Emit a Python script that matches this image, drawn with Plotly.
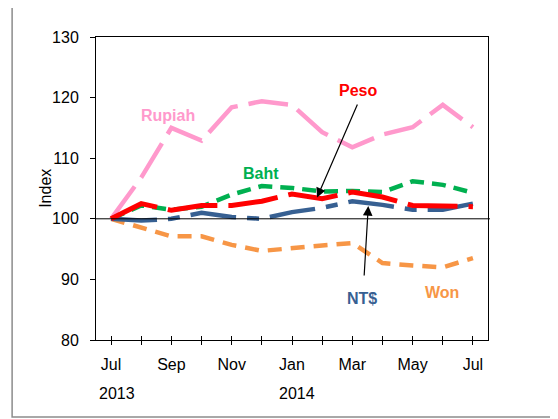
import plotly.graph_objects as go

# Monthly index values, Jul 2013 = 100
months = ["Jul", "Aug", "Sep", "Oct", "Nov", "Dec", "Jan",
          "Feb", "Mar", "Apr", "May", "Jun", "Jul"]
rupiah = [100, 106.8, 115.0, 112.9, 118.4, 119.4, 118.8, 114.3, 111.8, 113.9, 115.1, 118.8, 115.1]
baht = [100, 102.2, 101.5, 102.0, 104.0, 105.4, 105.1, 104.5, 104.6, 104.4, 106.2, 105.6, 104.3]
peso = [100, 102.5, 101.4, 102.2, 102.2, 102.9, 104.1, 103.3, 104.4, 103.6, 102.2, 102.2, 102.0]
ntd = [100, 99.7, 100.0, 101.0, 100.3, 100.0, 101.1, 101.8, 102.9, 102.3, 101.5, 101.5, 102.5]
won = [100, 98.5, 97.1, 97.1, 95.7, 94.7, 95.2, 95.6, 96.0, 92.7, 92.3, 92.0, 93.5]

month_labels = [m if i % 2 == 0 else "" for i, m in enumerate(months)]
years = ["2013", "2014"]

FONT = "Liberation Sans, Arial, sans-serif"
x = list(range(len(months)))

series = [
    ("Rupiah", rupiah, "#FF99CC", 4.5, "40px,11px"),
    ("Won", won, "#F79646", 4.5, "14px,9px"),
    ("Baht", baht, "#00B050", 4.5, "14px,8px"),
    ("NT$", ntd, "#376092", 4.5, "46px,11px,12px,11px"),
    ("Peso", peso, "#FF0000", 5, "50px,11px"),
]

fig = go.Figure()
for name, vals, color, width, dash in series:
    fig.add_trace(go.Scatter(
        x=x, y=vals, mode="lines", name=name,
        line=dict(color=color, width=width, dash=dash),
        showlegend=False, hoverinfo="skip",
    ))

# reference line at 100
fig.add_shape(type="line", xref="paper", yref="y", x0=0, x1=1.005, y0=100, y1=100,
              line=dict(color="black", width=1))

# outer frame
fig.add_shape(type="rect", xref="paper", yref="paper",
              x0=-0.214, x1=1.25, y0=-0.254, y1=1.102,
              line=dict(color="#8c8c8c", width=1.5), layer="below")

labels = [
    ("Rupiah", 1.90, 117.1, "#FF99CC"),
    ("Baht", 4.98, 107.4, "#00B050"),
    ("Peso", 8.19, 121.1, "#FF0000"),
    ("NT$", 8.32, 86.9, "#376092"),
    ("Won", 10.97, 87.9, "#F79646"),
]
for text, lx, ly, color in labels:
    fig.add_annotation(x=lx, y=ly, text="<b>%s</b>" % text, showarrow=False,
                       font=dict(family=FONT, size=16, color=color))

# arrows
fig.add_annotation(x=6.83, y=103.5, ax=8.19, ay=119.1, axref="x", ayref="y",
                   text="", showarrow=True, arrowhead=2, arrowsize=1.6,
                   arrowwidth=1.2, arrowcolor="black")
fig.add_annotation(x=8.53, y=102.1, ax=8.39, ay=90.4, axref="x", ayref="y",
                   text="", showarrow=True, arrowhead=2, arrowsize=1.6,
                   arrowwidth=1.2, arrowcolor="black")

# year labels
for yr, yx in zip(years, [0.18, 6.17]):
    fig.add_annotation(x=yx, y=-0.178, xref="x", yref="paper", text=yr,
                       yanchor="middle", showarrow=False,
                       font=dict(family=FONT, size=16, color="black"))

# y-axis title
fig.add_annotation(x=-0.156, y=0.5, xref="paper", yref="paper", text="Index",
                   textangle=-90, showarrow=False,
                   font=dict(family=FONT, size=16, color="black"))

# page body adds an 8px offset, so the figure is 8px smaller
fig.update_layout(
    width=550, height=411,
    margin=dict(l=88, r=70, t=29, b=79),
    paper_bgcolor="white", plot_bgcolor="white",
    font=dict(family=FONT, size=16, color="black"),
    xaxis=dict(range=[-0.5, 12.5], tickvals=x, ticktext=month_labels,
               ticks="outside", ticklen=4, tickwidth=1, tickcolor="black",
               showline=True, linecolor="black", linewidth=1, mirror=True,
               showgrid=False, zeroline=False, ticklabelstandoff=6,
               tickfont=dict(family=FONT, size=16, color="black")),
    xaxis2=dict(range=[-0.5, 12.5], tickvals=x, showticklabels=False,
                overlaying="x", side="bottom", anchor="y",
                ticks="inside", ticklen=4, tickwidth=1, tickcolor="black",
                showgrid=False, zeroline=False, showline=False),
    yaxis=dict(range=[80, 130], dtick=10, ticks="outside", ticklen=5,
               tickwidth=1, tickcolor="black",
               showline=True, linecolor="black", linewidth=1, mirror=True,
               showgrid=False, zeroline=False, ticklabelstandoff=8,
               tickfont=dict(family=FONT, size=16, color="black")),
)

# dummy trace to activate the inner-tick axis
fig.add_trace(go.Scatter(x=[None], y=[None], xaxis="x2", showlegend=False,
                         hoverinfo="skip"))

fig.write_html("out.html")
